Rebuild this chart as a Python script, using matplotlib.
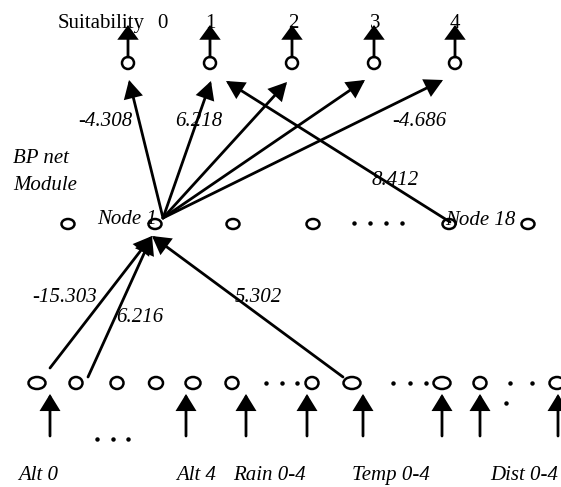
import matplotlib.pyplot as plt
from matplotlib.patches import Ellipse, FancyArrowPatch

# ---- Data (pixel coordinates of the diagram, y grows downwards) ----
OUT_X = [128, 210, 292, 374, 455]
OUT_Y = 63
OUT_LABELS = ["0", "1", "2", "3", "4"]
OUT_LABEL_X = [162, 210, 293, 375, 455]

HID_X = [68, 155, 233, 313, 449, 528]
HID_Y = 224
HID_DOTS_X = [354, 370, 386, 402]

IN_X = [37, 76, 117, 156, 193, 232, 312, 352, 442, 480, 557]
IN_W = [17, 13, 13, 14, 15, 13, 13, 17, 17, 13, 15]
IN_Y = 383
IN_DOTS = [(266, 383), (282, 383), (297, 383), (393, 383), (410, 383),
           (426, 383), (510, 383), (532, 383), (506, 403),
           (97, 439), (113, 439), (128, 439)]

IN_ARROW_X = [50, 186, 246, 307, 363, 442, 480, 558]
IN_NAMES = ["Alt 0", "Alt 4", "Rain 0-4", "Temp 0-4", "Dist 0-4"]
IN_NAME_X = [18, 176, 233, 352, 490]

# Node 1 -> outputs
NODE1_SRC = (163, 218)
NODE1_TIPS = [(129, 80), (211, 81), (287, 82), (365, 80), (443, 80)]
# Node 18 -> output 1
NODE18_SRC = (450, 222)
NODE18_TIP = (226, 81)
# inputs -> Node 1
IN_SRC = [(50, 368), (88, 377), (343, 377)]
IN_TIP = (152, 236)

WEIGHTS = ["-4.308", "6.218", "-4.686", "8.412", "-15.303", "6.216", "5.302"]
WEIGHT_POS = [(78, 126), (175, 126), (392, 126), (372, 185),
              (32, 302), (116, 322), (235, 302)]

FS = 15
SERIF = ["Liberation Serif", "DejaVu Serif"]

fig = plt.figure(figsize=(5.61, 4.87), dpi=100)
ax = fig.add_axes([0, 0, 1, 1])
ax.set_xlim(0, 561)
ax.set_ylim(487, 0)
ax.axis("off")


def arrow(p0, p1, hl=13, hw=7, lw=2.0):
    a = FancyArrowPatch(p0, p1,
                        arrowstyle=f"-|>,head_length={hl},head_width={hw}",
                        mutation_scale=0.72, lw=lw, color="black",
                        shrinkA=0, shrinkB=0, joinstyle="miter")
    ax.add_patch(a)


def node(x, y, w, h):
    ax.add_patch(Ellipse((x, y), w, h, fill=False, lw=1.8, ec="black"))


# output layer
for x, lab, lx in zip(OUT_X, OUT_LABELS, OUT_LABEL_X):
    node(x, OUT_Y, 12, 12)
    arrow((x, OUT_Y - 6), (x, 25), hl=11, hw=8)
    ax.text(lx, 28, lab, fontsize=FS, family=SERIF, ha="center", va="baseline")
ax.text(58, 28, "Suitability", fontsize=FS, family=SERIF, ha="left", va="baseline")

# hidden layer
for x in HID_X:
    node(x, HID_Y, 13, 10)
for x in HID_DOTS_X:
    ax.plot(x, HID_Y - 1, "o", ms=2.2, color="black")

# input layer
for x, w in zip(IN_X, IN_W):
    node(x, IN_Y, w, 12)
for x, y in IN_DOTS:
    ax.plot(x, y, "o", ms=2.2, color="black")
for x in IN_ARROW_X:
    arrow((x, 436), (x, 394), hl=13, hw=8)
for name, x in zip(IN_NAMES, IN_NAME_X):
    ax.text(x, 480, name, fontsize=FS, family=SERIF, style="italic",
            ha="left", va="baseline")

# connections
for tip in NODE1_TIPS:
    arrow(NODE1_SRC, tip, hl=14, hw=7.5)
arrow(NODE18_SRC, NODE18_TIP, hl=14, hw=7.5)
for src in IN_SRC:
    arrow(src, IN_TIP, hl=14, hw=8)

# labels
for w, (x, y) in zip(WEIGHTS, WEIGHT_POS):
    ax.text(x, y, w, fontsize=FS, family=SERIF, style="italic",
            ha="left", va="baseline")
ax.text(13, 163, "BP net", fontsize=FS, family=SERIF, style="italic", va="baseline")
ax.text(13, 190, "Module", fontsize=FS, family=SERIF, style="italic", va="baseline")
ax.text(97, 224, "Node 1", fontsize=FS, family=SERIF, style="italic", va="baseline")
ax.text(445, 225, "Node 18", fontsize=FS, family=SERIF, style="italic", va="baseline")

fig.savefig("out.png", dpi=100)
